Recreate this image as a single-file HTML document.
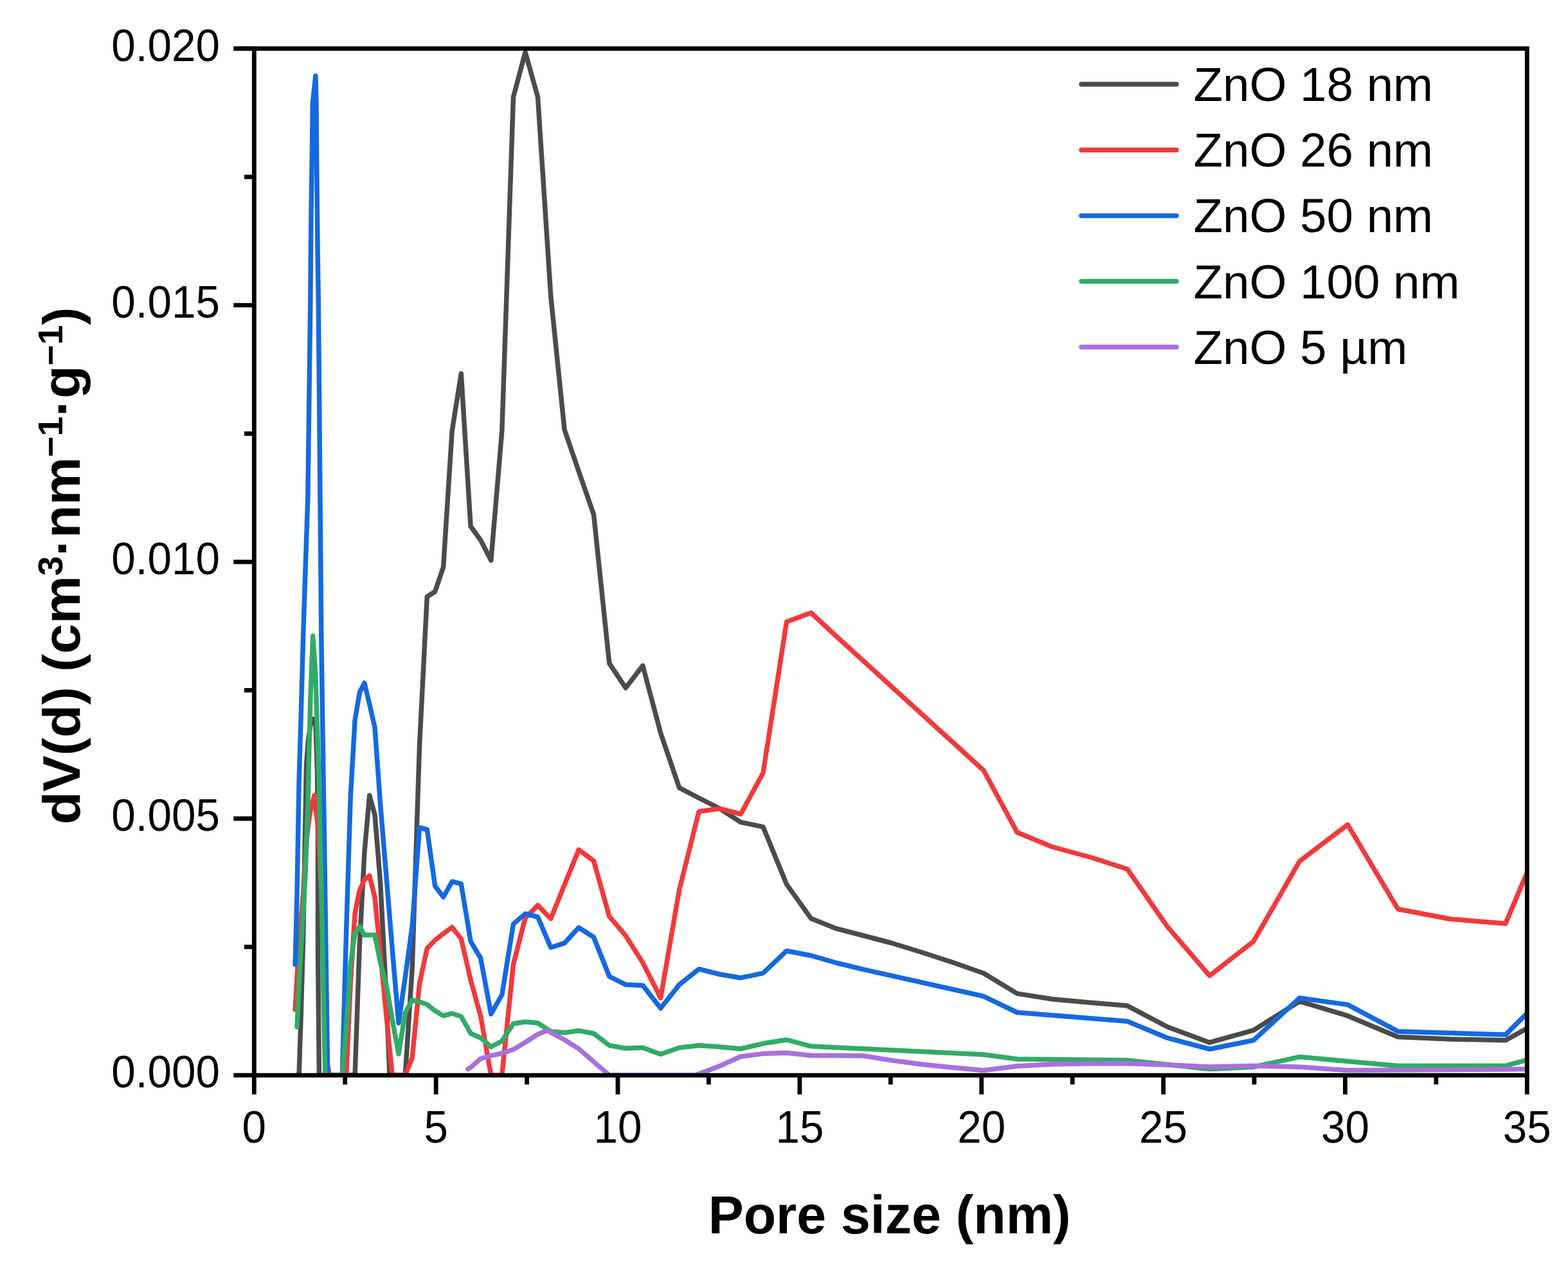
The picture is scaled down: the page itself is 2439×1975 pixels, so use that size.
<!DOCTYPE html>
<html><head><meta charset="utf-8"><title>Pore size distribution</title>
<style>html,body{margin:0;padding:0;background:#fff;}svg{display:block;}</style>
</head><body>
<svg width="2439" height="1975" viewBox="0 0 2439 1975">
<rect width="2439" height="1975" fill="#fff"/>
<defs><clipPath id="c"><rect x="395.3" y="65.5" width="1980.0000000000002" height="1606.7"/></clipPath></defs>
<g clip-path="url(#c)" fill="none" stroke-width="7.5" stroke-linejoin="round" stroke-linecap="round">
<polyline points="462.0,1672.0 465.1,1672.0 468.3,1575.0 471.6,1460.0 474.5,1300.0 476.5,1190.0 479.5,1150.0 483.0,1128.0 486.7,1118.0 490.9,1122.0 493.5,1200.0 494.5,1300.0 494.5,1480.0 496.4,1672.0 545.2,1672.0 552.1,1672.0 559.3,1470.0 566.9,1326.0 574.7,1237.0 583.0,1267.0 591.6,1372.0 600.7,1545.0 606.0,1672.0 630.3,1672.0 641.2,1505.0 652.5,1160.0 664.3,928.0 676.7,920.0 689.6,882.0 703.2,670.0 717.3,581.0 732.1,818.5 747.6,840.0 763.8,871.3 780.8,670.0 798.5,151.0 817.1,81.0 836.5,151.0 856.8,461.0 878.0,668.0 900.2,733.0 923.5,800.0 947.8,1031.7 973.2,1069.7 999.8,1035.1 1027.6,1140.0 1056.7,1225.2 1087.1,1241.0 1118.9,1257.0 1152.2,1278.7 1187.0,1285.9 1223.5,1375.1 1261.6,1428.4 1301.4,1444.2 1343.1,1455.0 1386.7,1466.5 1432.3,1480.5 1480.0,1496.0 1530.0,1513.5 1582.2,1545.1 1636.8,1553.7 1693.9,1559.0 1753.6,1564.1 1816.1,1597.0 1881.5,1621.2 1949.9,1602.1 2021.4,1557.2 2096.2,1579.7 2174.4,1612.5 2256.3,1616.0 2341.9,1617.7 2431.5,1568.2" stroke="#4b4b4b"/>
<polyline points="459.1,1570.0 462.0,1520.0 465.1,1470.0 468.3,1430.0 471.6,1390.0 474.0,1350.0 477.5,1300.0 482.0,1265.0 489.0,1237.0 495.0,1290.0 499.9,1390.0 503.5,1500.0 506.0,1600.0 509.3,1655.0 512.5,1672.0 532.3,1672.0 538.6,1672.0 545.2,1530.0 552.1,1420.0 559.3,1385.0 566.9,1368.0 574.7,1362.0 583.0,1395.0 591.6,1482.0 600.7,1577.0 610.1,1672.0 630.3,1672.0 641.2,1645.0 652.5,1530.0 664.3,1475.0 676.7,1462.0 689.6,1452.0 703.2,1442.0 717.3,1460.0 732.1,1524.0 747.6,1580.0 763.8,1672.0 780.8,1672.0 798.5,1500.0 817.1,1427.5 836.5,1408.0 856.8,1428.6 878.0,1376.0 900.2,1321.5 923.5,1338.8 947.8,1425.2 973.2,1455.2 999.8,1497.0 1027.6,1552.0 1056.7,1383.7 1087.1,1262.0 1118.9,1257.5 1152.2,1266.0 1187.0,1202.0 1223.5,967.0 1261.6,953.0 1301.4,990.0 1530.0,1198.0 1582.2,1294.5 1636.8,1317.0 1693.9,1332.5 1753.6,1351.5 1816.1,1441.4 1881.5,1517.4 1949.9,1463.9 2021.4,1339.4 2096.2,1282.4 2174.4,1413.7 2256.3,1429.3 2341.9,1436.2 2431.5,1223.5" stroke="#f03a3b"/>
<polyline points="459.1,1500.0 462.0,1390.0 465.1,1215.0 468.3,1110.0 471.6,990.0 475.2,880.0 478.8,775.0 482.7,480.0 484.0,330.0 485.5,230.0 486.4,160.0 490.9,118.0 492.0,162.0 492.9,280.0 494.2,400.0 495.3,470.0 499.9,1000.0 504.7,1320.0 509.7,1672.0 526.3,1672.0 532.3,1672.0 538.6,1450.0 545.2,1240.0 552.1,1120.0 559.3,1077.0 566.9,1062.0 574.7,1095.0 583.0,1131.0 591.6,1250.0 600.7,1360.0 610.1,1475.0 620.0,1591.0 630.3,1520.0 641.2,1440.0 652.5,1287.0 664.3,1290.0 676.7,1378.0 689.6,1395.0 703.2,1371.0 717.3,1374.5 732.1,1464.0 747.6,1490.0 763.8,1577.0 780.8,1547.0 798.5,1437.0 817.1,1421.0 836.5,1426.0 856.8,1473.5 878.0,1466.6 900.2,1442.5 923.5,1457.5 947.8,1518.5 973.2,1531.2 999.8,1532.4 1027.6,1568.0 1056.7,1531.2 1087.1,1507.0 1118.9,1515.0 1152.2,1520.7 1187.0,1513.4 1223.5,1478.8 1261.6,1486.0 1301.4,1497.5 1343.1,1507.6 1530.0,1549.3 1582.2,1574.5 1753.6,1588.3 1816.1,1614.2 1881.5,1631.5 1949.9,1617.7 2021.4,1552.0 2096.2,1562.4 2174.4,1603.9 2256.3,1606.6 2341.9,1609.0 2431.5,1520.0" stroke="#1469e0"/>
<polyline points="462.0,1597.0 465.1,1530.0 468.3,1475.0 471.6,1420.0 475.2,1355.0 478.8,1255.0 482.7,1090.0 486.7,989.0 490.9,1050.0 495.3,1190.0 499.9,1380.0 504.7,1620.0 505.8,1672.0 526.3,1672.0 532.3,1672.0 538.6,1600.0 545.2,1500.0 552.1,1452.0 559.3,1441.0 566.9,1454.0 574.7,1454.0 583.0,1454.0 591.6,1497.0 600.7,1530.0 610.1,1585.0 620.0,1639.0 630.3,1575.0 641.2,1555.0 652.5,1558.0 664.3,1562.0 676.7,1572.0 689.6,1579.5 703.2,1576.0 717.3,1580.7 732.1,1607.0 747.6,1614.0 763.8,1628.0 780.8,1619.0 798.5,1592.0 817.1,1589.0 836.5,1591.0 856.8,1604.0 878.0,1606.0 900.2,1602.7 923.5,1607.3 947.8,1625.7 973.2,1630.3 999.8,1629.2 1027.6,1639.5 1056.7,1629.2 1087.1,1625.7 1118.9,1628.0 1152.2,1631.0 1187.0,1622.8 1223.5,1617.0 1261.6,1627.1 1530.0,1640.0 1582.2,1647.0 1753.6,1648.8 1881.5,1662.6 1949.9,1659.2 2021.4,1643.6 2096.2,1650.5 2174.4,1657.4 2256.3,1657.4 2341.9,1657.4 2431.5,1633.0" stroke="#31ab66"/>
<polyline points="728.0,1662.5 732.1,1660.0 747.6,1646.4 763.8,1641.7 780.8,1638.0 798.5,1632.0 817.1,1621.0 836.5,1608.5 851.0,1602.5 878.0,1617.0 900.2,1631.0 923.5,1651.0 947.8,1672.0 1082.0,1672.0 1118.9,1658.0 1152.2,1643.0 1187.0,1638.6 1223.5,1637.2 1261.6,1641.5 1301.4,1641.5 1343.1,1642.0 1386.7,1649.0 1432.3,1655.0 1480.0,1660.0 1530.0,1664.5 1582.2,1658.0 1636.8,1655.0 1693.9,1654.0 1753.6,1654.0 1816.1,1656.0 1881.5,1659.0 1949.9,1657.5 2021.4,1659.2 2096.2,1664.4 2174.4,1664.0 2256.3,1663.5 2341.9,1663.0 2431.5,1662.0" stroke="#a970de"/>
</g>
<g stroke="#000" stroke-width="6.8" fill="none">
<rect x="395.3" y="75.5" width="1980.0000000000002" height="1596.7"/>
<line x1="363.3" y1="1672.2" x2="395.3" y2="1672.2"/>
<line x1="363.3" y1="1273.0" x2="395.3" y2="1273.0"/>
<line x1="363.3" y1="873.9" x2="395.3" y2="873.9"/>
<line x1="363.3" y1="474.7" x2="395.3" y2="474.7"/>
<line x1="363.3" y1="75.5" x2="395.3" y2="75.5"/>
<line x1="380" y1="1472.6" x2="395.3" y2="1472.6"/>
<line x1="380" y1="1073.4" x2="395.3" y2="1073.4"/>
<line x1="380" y1="674.3" x2="395.3" y2="674.3"/>
<line x1="380" y1="275.1" x2="395.3" y2="275.1"/>
<line x1="395.3" y1="1672.2" x2="395.3" y2="1702"/>
<line x1="678.2" y1="1672.2" x2="678.2" y2="1702"/>
<line x1="961.0" y1="1672.2" x2="961.0" y2="1702"/>
<line x1="1243.9" y1="1672.2" x2="1243.9" y2="1702"/>
<line x1="1526.7" y1="1672.2" x2="1526.7" y2="1702"/>
<line x1="1809.6" y1="1672.2" x2="1809.6" y2="1702"/>
<line x1="2092.4" y1="1672.2" x2="2092.4" y2="1702"/>
<line x1="2375.3" y1="1672.2" x2="2375.3" y2="1702"/>
<line x1="536.7" y1="1672.2" x2="536.7" y2="1686.5"/>
<line x1="819.6" y1="1672.2" x2="819.6" y2="1686.5"/>
<line x1="1102.4" y1="1672.2" x2="1102.4" y2="1686.5"/>
<line x1="1385.3" y1="1672.2" x2="1385.3" y2="1686.5"/>
<line x1="1668.2" y1="1672.2" x2="1668.2" y2="1686.5"/>
<line x1="1951.0" y1="1672.2" x2="1951.0" y2="1686.5"/>
<line x1="2233.9" y1="1672.2" x2="2233.9" y2="1686.5"/>
</g>
<g font-family='"Liberation Sans", Arial, sans-serif' font-size="69.5" fill="#000">
<text transform="translate(342,1691.2) scale(0.97,1)" text-anchor="end">0.000</text>
<text transform="translate(342,1292.0) scale(0.97,1)" text-anchor="end">0.005</text>
<text transform="translate(342,892.9) scale(0.97,1)" text-anchor="end">0.010</text>
<text transform="translate(342,493.7) scale(0.97,1)" text-anchor="end">0.015</text>
<text transform="translate(342,94.5) scale(0.97,1)" text-anchor="end">0.020</text>
<text transform="translate(395.3,1777.3) scale(0.97,1)" text-anchor="middle">0</text>
<text transform="translate(678.2,1777.3) scale(0.97,1)" text-anchor="middle">5</text>
<text transform="translate(961.0,1777.3) scale(0.97,1)" text-anchor="middle">10</text>
<text transform="translate(1243.9,1777.3) scale(0.97,1)" text-anchor="middle">15</text>
<text transform="translate(1526.7,1777.3) scale(0.97,1)" text-anchor="middle">20</text>
<text transform="translate(1809.6,1777.3) scale(0.97,1)" text-anchor="middle">25</text>
<text transform="translate(2092.4,1777.3) scale(0.97,1)" text-anchor="middle">30</text>
<text transform="translate(2375.3,1777.3) scale(0.97,1)" text-anchor="middle">35</text>
</g>
<text x="1383.6" y="1918" text-anchor="middle" font-family='"Liberation Sans", Arial, sans-serif' font-weight="bold" font-size="82.5">Pore size (nm)</text>
<text transform="translate(123.5,879.9) rotate(-90) scale(1.0235,1)" text-anchor="middle" font-family='"Liberation Sans", Arial, sans-serif' font-weight="bold" font-size="82">dV(d) (cm<tspan font-size="54.1" dy="-26.5">3</tspan><tspan dy="26.5">·nm</tspan><tspan font-size="54.1" dy="-26.5">−1</tspan><tspan dy="26.5">·g</tspan><tspan font-size="54.1" dy="-26.5">−1</tspan><tspan dy="26.5">)</tspan></text>
<line x1="1682" y1="131.0" x2="1830" y2="131.0" stroke="#4b4b4b" stroke-width="7.5" stroke-linecap="round"/>
<text x="1856.5" y="157.0" font-family='"Liberation Sans", Arial, sans-serif' font-size="74.5">ZnO 18 nm</text>
<line x1="1682" y1="233.2" x2="1830" y2="233.2" stroke="#f03a3b" stroke-width="7.5" stroke-linecap="round"/>
<text x="1856.5" y="259.2" font-family='"Liberation Sans", Arial, sans-serif' font-size="74.5">ZnO 26 nm</text>
<line x1="1682" y1="335.4" x2="1830" y2="335.4" stroke="#1469e0" stroke-width="7.5" stroke-linecap="round"/>
<text x="1856.5" y="361.4" font-family='"Liberation Sans", Arial, sans-serif' font-size="74.5">ZnO 50 nm</text>
<line x1="1682" y1="437.6" x2="1830" y2="437.6" stroke="#31ab66" stroke-width="7.5" stroke-linecap="round"/>
<text x="1856.5" y="463.6" font-family='"Liberation Sans", Arial, sans-serif' font-size="74.5">ZnO 100 nm</text>
<line x1="1682" y1="539.8" x2="1830" y2="539.8" stroke="#a970de" stroke-width="7.5" stroke-linecap="round"/>
<text x="1856.5" y="565.8" font-family='"Liberation Sans", Arial, sans-serif' font-size="74.5">ZnO 5 µm</text>
</svg>
</body></html>
